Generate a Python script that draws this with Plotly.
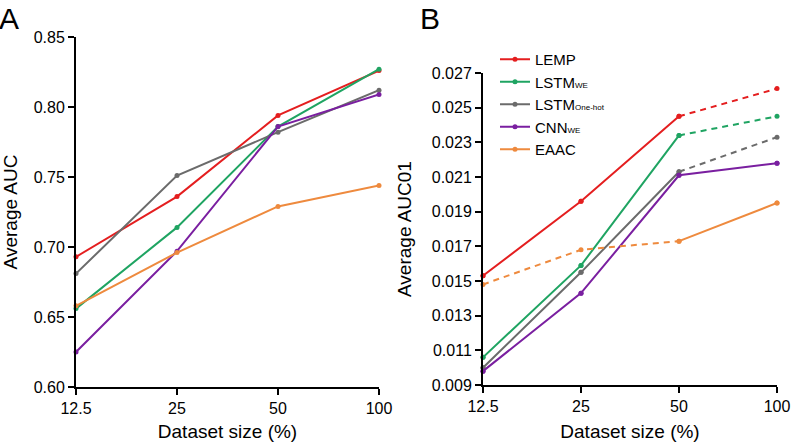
import plotly.graph_objects as go
import numpy as np

sizes = [12.5, 25, 50, 100]
size_labels = ["12.5", "25", "50", "100"]

series_names = ["LEMP", "LSTM_WE", "LSTM_onehot", "CNN_WE", "EAAC"]
legend_labels = [
    "LEMP",
    "LSTM<span style='font-size:8px'>WE</span>",
    "LSTM<span style='font-size:8px'>One-hot</span>",
    "CNN<span style='font-size:8px'>WE</span>",
    "EAAC",
]
colors = ["#e41e1f", "#1fa462", "#6b6b6b", "#7a1fa0", "#ee8a3e"]

# Panel A: Average AUC
auc_lemp = [0.693, 0.736, 0.794, 0.826]
auc_lstm_we = [0.656, 0.714, 0.786, 0.827]
auc_lstm_onehot = [0.681, 0.751, 0.782, 0.812]
auc_cnn_we = [0.625, 0.697, 0.786, 0.809]
auc_eaac = [0.658, 0.696, 0.729, 0.744]
auc_ticks = [0.60, 0.65, 0.70, 0.75, 0.80, 0.85]

# Panel B: Average AUC01
auc01_lemp = [0.0153, 0.0196, 0.0245, 0.0261]
auc01_lstm_we = [0.0106, 0.0159, 0.0234, 0.0245]
auc01_lstm_onehot = [0.0100, 0.0155, 0.0213, 0.0233]
auc01_cnn_we = [0.0098, 0.0143, 0.0211, 0.0218]
auc01_eaac = [0.0148, 0.0168, 0.0173, 0.0195]
auc01_ticks = [0.009, 0.011, 0.013, 0.015, 0.017, 0.019, 0.021, 0.023, 0.025, 0.027]

# which segments (between consecutive points) are dashed in panel B
dashed_segments_b = [
    [False, False, True],
    [False, False, True],
    [False, False, True],
    [False, False, False],
    [True, True, False],
]

auc_all = [auc_lemp, auc_lstm_we, auc_lstm_onehot, auc_cnn_we, auc_eaac]
auc01_all = [auc01_lemp, auc01_lstm_we, auc01_lstm_onehot, auc01_cnn_we, auc01_eaac]

FONT = "Liberation Sans, Arial, sans-serif"
fig = go.Figure()

for i, name in enumerate(series_names):
    fig.add_trace(go.Scatter(
        x=sizes, y=auc_all[i], mode="lines+markers",
        line=dict(color=colors[i], width=2),
        marker=dict(color=colors[i], size=5),
        xaxis="x", yaxis="y", showlegend=False, cliponaxis=False,
        legendgroup=name,
    ))

for i, name in enumerate(series_names):
    vals = auc01_all[i]
    segs = dashed_segments_b[i]
    solid_y = [np.nan] * 4
    dash_y = [np.nan] * 4
    for s, is_dash in enumerate(segs):
        target = dash_y if is_dash else solid_y
        target[s] = vals[s]
        target[s + 1] = vals[s + 1]
    fig.add_trace(go.Scatter(
        x=sizes, y=vals, mode="markers",
        marker=dict(color=colors[i], size=5),
        xaxis="x2", yaxis="y2", showlegend=False, cliponaxis=False,
        legendgroup=name,
    ))
    fig.add_trace(go.Scatter(
        x=sizes, y=dash_y, mode="lines",
        line=dict(color=colors[i], width=2, dash="6px,5px"),
        xaxis="x2", yaxis="y2", showlegend=False, connectgaps=False,
        legendgroup=name,
    ))
    fig.add_trace(go.Scatter(
        x=sizes, y=solid_y, mode="lines+markers",
        line=dict(color=colors[i], width=2),
        marker=dict(color=colors[i], size=5),
        xaxis="x2", yaxis="y2", showlegend=True, connectgaps=False,
        name=legend_labels[i], legendgroup=name, cliponaxis=False,
    ))

W, H = 792, 442
def xd(a, b):
    return [a / W, b / W]
def yd(top, bottom):
    return [(H - bottom) / H, (H - top) / H]

axis_common = dict(
    showgrid=False, zeroline=False, showline=True, linecolor="black", linewidth=2,
    ticks="outside", tickwidth=2, ticklen=6, tickcolor="black", automargin=False,
    ticklabeloverflow="allow",
    tickfont=dict(family=FONT, size=16, color="black"),
)
xr = [np.log10(12.5), np.log10(100)]

fig.update_layout(
    width=W, height=H,
    margin=dict(l=0, r=0, t=0, b=0, autoexpand=False),
    plot_bgcolor="white", paper_bgcolor="white",
    font=dict(family=FONT, color="black"),
    xaxis=dict(domain=xd(76, 379), type="log", range=xr, tickvals=sizes, ticktext=size_labels,
               anchor="y",
               title=dict(text="Dataset size (%)", font=dict(family=FONT, size=19)),
               **axis_common),
    yaxis=dict(domain=yd(37, 387), range=[0.60, 0.85], tickvals=auc_ticks, tickformat=".2f",
               anchor="x",
               title=dict(text="Average AUC", font=dict(family=FONT, size=19)),
               **axis_common),
    xaxis2=dict(domain=xd(483, 777), type="log", range=xr, tickvals=sizes, ticktext=size_labels,
                anchor="y2",
                title=dict(text="Dataset size (%)", font=dict(family=FONT, size=19)),
                **axis_common),
    yaxis2=dict(domain=yd(73, 385), range=[0.009, 0.027], tickvals=auc01_ticks, tickformat=".3f",
                anchor="x2",
                title=dict(text="Average AUC01", font=dict(family=FONT, size=19)),
                **axis_common),
    legend=dict(x=495 / W, y=(H - 43) / H, xanchor="left", yanchor="top",
                bgcolor="rgba(0,0,0,0)", font=dict(family=FONT, size=15, color="black"),
                tracegroupgap=0, itemwidth=30),
    annotations=[
        dict(text="A", x=0, y=1, xref="paper", yref="paper", xanchor="left", yanchor="top",
             showarrow=False, font=dict(family=FONT, size=30, color="black"), xshift=-3, yshift=0),
        dict(text="B", x=418 / W, y=1, xref="paper", yref="paper", xanchor="left", yanchor="top",
             showarrow=False, font=dict(family=FONT, size=30, color="black"), yshift=0),
    ],
)

fig.write_html("out.html", config={"displayModeBar": False},
               post_script="document.body.style.margin='0';document.body.style.overflow='hidden';")
